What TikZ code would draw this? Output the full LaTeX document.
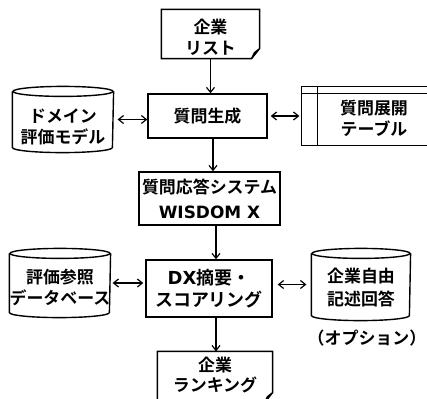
\documentclass[tikz,border=0pt]{standalone}
\usepackage{fontspec}
\setmainfont{Noto Sans CJK JP}[UprightFont=* Bold]
\newfontfamily\latin{DejaVu Sans}[UprightFont=* Bold]
\usetikzlibrary{arrows.meta}

\begin{document}
\begin{tikzpicture}[x=1bp,y=-1bp,line width=1.2bp,
    every node/.style={inner sep=0pt,align=center,font=\fontsize{17}{21}\selectfont},
    proc/.style={draw,line width=1.4bp},
    outline/.style={line width=1.4bp},
    arr/.style={-{Straight Barb[length=5bp,width=8bp]}},
    darr/.style={{Straight Barb[length=5bp,width=8bp]}-{Straight Barb[length=5bp,width=8bp]}}]
    \useasboundingbox (0,0) rectangle (427,399);

    % documents
    \node[minimum width=97bp,minimum height=48bp,label={[yshift=-3bp]center:{企業\\リスト}}] (list) at (210.5,34) {};
    \node[minimum width=114bp,minimum height=50bp,label={[yshift=2bp]center:{企業\\ランキング}}] (rank) at (215,377) {};
    \foreach \n in {list,rank}
        \draw[outline] (\n.north west) -- (\n.north east) -- ([yshift=10bp]\n.south east) -- ([xshift=-8bp]\n.south east) -- (\n.south west) -- cycle
            ([xshift=-8bp]\n.south east) -- ([xshift=-5bp,yshift=6bp]\n.south east) -- ([yshift=10bp]\n.south east);

    % processes
    \node[proc,minimum width=119bp,minimum height=44bp] (gen) at (207.5,116) {質問生成};
    \node[proc,minimum width=141bp,minimum height=53bp] (qa) at (209.5,198.5) {質問応答システム\\[4bp]{\latin WISDOM X}};
    \node[proc,minimum width=126bp,minimum height=57bp,font=\fontsize{18}{22}\selectfont] (dx) at (209,288.5) {{\latin DX}摘要・\\スコアリング};

    % databases
    \node[minimum width=100bp,minimum height=65bp,label={[yshift=-7bp]center:{ドメイン\\評価モデル}}] (model) at (63,119.5) {};
    \node[minimum width=100bp,minimum height=68bp,label={[yshift=-4bp]center:{評価参照\\データベース}}] (refdb) at (60,283) {};
    \node[minimum width=98bp,minimum height=71bp,label={[yshift=-3bp]center:{企業自由\\[3bp]記述回答}}] (free) at (361,284.5) {};
    \foreach \n/\r in {model/50,refdb/50,free/49}{
        \draw[outline] ([yshift=-5bp]\n.north) ellipse [x radius=\r bp,y radius=5bp];
        \draw[outline] ([yshift=-5bp]\n.north west) -- ([yshift=5bp]\n.south west)
            arc [start angle=180,end angle=360,x radius=\r bp,y radius=5bp] -- ([yshift=-5bp]\n.north east);
    }
    \node (opt) at (367,338) {（オプション）};

    % table
    \node[minimum width=150bp,minimum height=58bp,label={[xshift=-3bp,yshift=-2.5bp]center:{質問展開\\テーブル}}] (tbl) at (377,116) {};
    \draw[outline] (tbl.north west) rectangle (tbl.south east);
    \draw[outline] ([yshift=-7bp]tbl.north west) -- ([yshift=-7bp]tbl.north east);
    \draw[outline] ([xshift=16bp]tbl.north west) -- ([xshift=16bp]tbl.south west);

    % connectors
    \draw[arr] (list.south) -- (list.south |- gen.north);
    \draw[arr] ([xshift=5.5bp]gen.south) -- ([xshift=5.5bp]gen.south |- qa.north);
    \draw[arr] ([xshift=6.5bp]qa.south) -- ([xshift=6.5bp]qa.south |- dx.north);
    \draw[arr] ([xshift=7bp]dx.south) -- ([xshift=7bp]dx.south |- rank.north);
    \draw[darr] ([xshift=4bp]model.east) -- (model.east -| gen.west);
    \draw[darr] ([xshift=3bp]gen.east |- tbl.west) -- ([xshift=-2bp]tbl.west);
    \draw[darr] ([xshift=2bp]refdb.east) -- ([xshift=-2bp]refdb.east -| dx.west);
    \draw[darr] ([xshift=5bp]dx.east |- free.west) -- ([xshift=-5bp]free.west);
\end{tikzpicture}
\end{document}
